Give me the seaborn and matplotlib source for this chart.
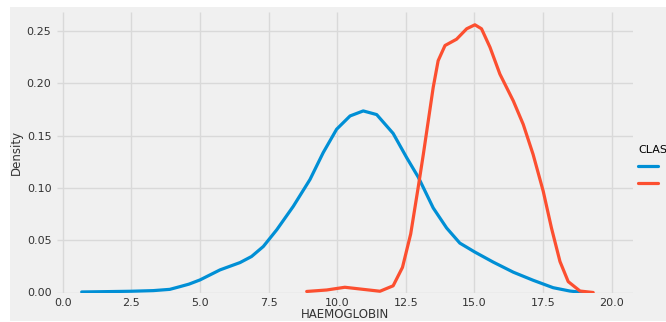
import matplotlib
matplotlib.use("Agg")
import matplotlib.pyplot as plt
from matplotlib.patches import Rectangle
import seaborn as sns
import pandas as pd

# KDE curves (HAEMOGLOBIN vs density)
ckd_x = [0.69, 1.5, 2.5, 3.3, 3.9, 4.27, 4.6, 5.0, 5.73, 6.46, 6.88, 7.31, 7.8,
         8.4, 9.01, 9.49, 9.98, 10.47, 10.95, 11.44, 12.04, 12.53, 12.96, 13.5,
         13.99, 14.47, 15.02, 15.69, 16.42, 17.14, 17.87, 18.48, 18.97]
ckd_y = [0.0005, 0.0008, 0.0012, 0.0018, 0.003, 0.0056, 0.008, 0.012, 0.0216,
         0.0286, 0.0344, 0.044, 0.060, 0.0823, 0.108, 0.1336, 0.156, 0.1687,
         0.1735, 0.170, 0.152, 0.129, 0.110, 0.0808, 0.0616, 0.0472, 0.0386,
         0.029, 0.0194, 0.0117, 0.0046, 0.0014, 0.0]

notckd_x = [8.89, 9.62, 10.28, 10.95, 11.56, 12.04, 12.38, 12.68, 12.95, 13.14,
            13.32, 13.5, 13.68, 13.93, 14.35, 14.72, 15.02, 15.26, 15.57, 15.93,
            16.42, 16.78, 17.14, 17.51, 17.81, 18.12, 18.42, 18.85, 19.33]
notckd_y = [0.001, 0.0024, 0.005, 0.003, 0.0012, 0.0064, 0.024, 0.056, 0.100,
            0.132, 0.164, 0.196, 0.2215, 0.236, 0.242, 0.252, 0.2558, 0.252,
            0.2343, 0.2087, 0.183, 0.1607, 0.132, 0.0967, 0.0616, 0.0296, 0.0104,
            0.0014, 0.0]

classes = ["ckd", "notckd"]
x_ticks = [0.0, 2.5, 5.0, 7.5, 10.0, 12.5, 15.0, 17.5, 20.0]
y_ticks = [0.00, 0.05, 0.10, 0.15, 0.20, 0.25]

df = pd.concat([
    pd.DataFrame({"HAEMOGLOBIN": ckd_x, "Density": ckd_y, "CLASS": classes[0]}),
    pd.DataFrame({"HAEMOGLOBIN": notckd_x, "Density": notckd_y, "CLASS": classes[1]}),
], ignore_index=True)

plt.style.use("fivethirtyeight")
plt.rcParams["font.family"] = ["DejaVu Sans"]

fig = plt.figure(figsize=(6.66, 3.22), dpi=100)
fig.patch.set_facecolor("white")
fig.patches.append(Rectangle((10 / 666, 1 / 322), 1.0, 314 / 322,
                             transform=fig.transFigure, facecolor="#f0f0f0",
                             edgecolor="none", zorder=-10))
ax = fig.add_axes([57 / 666, (322 - 292.5) / 322, (632.7 - 57) / 666, (292.5 - 11.5) / 322])
ax.set_facecolor("#f0f0f0")

sns.lineplot(data=df, x="HAEMOGLOBIN", y="Density", hue="CLASS",
             palette=["#008fd5", "#fc4f30"], linewidth=2.3, ax=ax, sort=False,
             solid_joinstyle="round", solid_capstyle="round")

ax.set_xlim(-0.21, 20.77)
ax.set_ylim(0, 0.2685)
ax.set_xticks(x_ticks)
ax.set_yticks(y_ticks)
ax.set_xticklabels([f"{v:.1f}" for v in x_ticks])
ax.set_yticklabels([f"{v:.2f}" for v in y_ticks])
ax.tick_params(labelsize=8, colors="#333333", length=0, pad=4)
ax.grid(True, color="#d9d9d9", linewidth=1.0)
for s in ax.spines.values():
    s.set_visible(False)
ax.set_xlabel("HAEMOGLOBIN", fontsize=8.5, color="#333333", labelpad=0)
ax.set_ylabel("Density", fontsize=8.5, color="#333333", labelpad=3)

leg = ax.get_legend()
handles = leg.legend_handles
leg.remove()
# legend sits at the right edge; its labels fall beyond the cropped picture
fig.legend(handles, classes, title="CLASS", loc="center left",
           bbox_to_anchor=(628 / 666, (322 - 167) / 322), frameon=False,
           fontsize=8, title_fontsize=8, alignment="left", handlelength=1.8,
           handletextpad=1.2, labelspacing=0.6)

fig.savefig("out.png", dpi=100, facecolor=fig.get_facecolor())
